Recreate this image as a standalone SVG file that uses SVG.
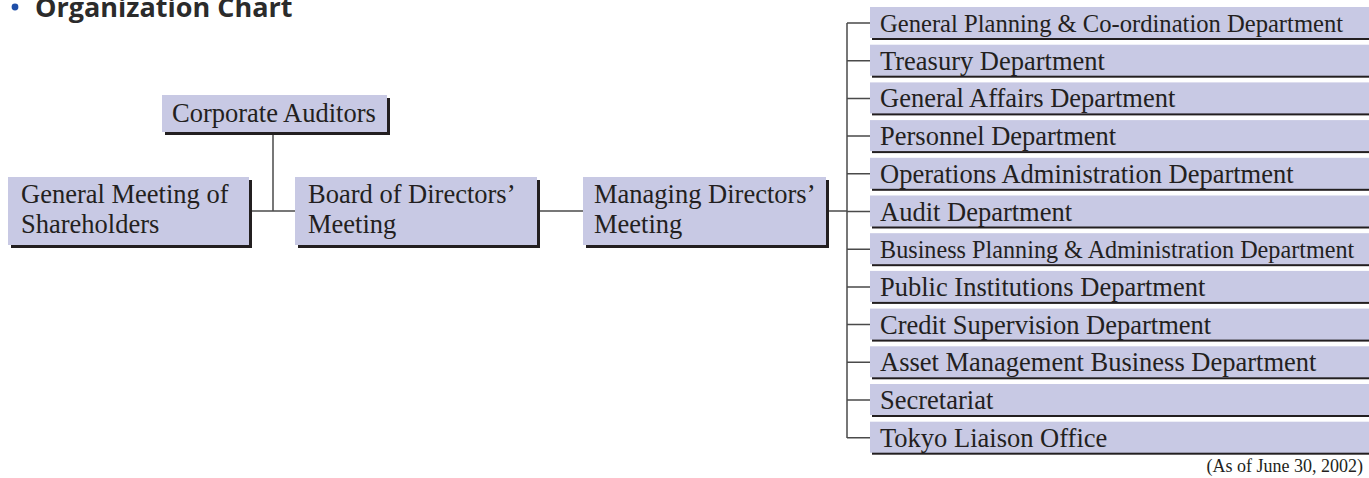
<svg xmlns="http://www.w3.org/2000/svg" width="1369" height="478" viewBox="0 0 1369 478">
  <style>
    .box { fill: #c8c9e4; }
    .shadow { fill: #231f20; }
    .label { font-family: "Liberation Serif", "Times New Roman", serif; font-size: 26.5px; fill: #231f20; }
    .dept { font-family: "Liberation Serif", "Times New Roman", serif; font-size: 26.5px; fill: #231f20; }
    .dept.long { font-size: 24.6px; }
    .dept.longer { font-size: 24.2px; }
    .link { stroke: #4a4a4a; stroke-width: 1.5; fill: none; }
    .title { font-family: "Open Sans", "Liberation Sans", sans-serif; font-weight: 700; font-size: 27px; fill: #2b2b2b; }
    .note { font-family: "Liberation Serif", "Times New Roman", serif; font-size: 18px; fill: #231f20; }
  </style>

  <!-- heading -->
  <circle cx="15" cy="7" r="3.4" fill="#1f4fa8"/>
  <text class="title" x="35" y="17">Organization Chart</text>

  <!-- connectors -->
  <g id="connectors">
    <path class="link" d="M249 211 H295"/>
    <path class="link" d="M273 132 V211"/>
    <path class="link" d="M537 211 H583"/>
    <path class="link" d="M826 211 H847"/>
    <path class="link" d="M847 23 V438"/>
    <path class="link" d="M847 23 H870 M847 60.7 H870 M847 98.4 H870 M847 136.1 H870 M847 173.8 H870 M847 211.5 H870 M847 249.2 H870 M847 286.9 H870 M847 324.6 H870 M847 362.3 H870 M847 400 H870 M847 437.7 H870"/>
  </g>

  <!-- governing bodies -->
  <g id="corporate-auditors">
    <rect class="shadow" x="165" y="98" width="225" height="37"/>
    <rect class="box" x="162" y="95" width="225" height="37"/>
    <text class="label" x="172" y="122">Corporate Auditors</text>
  </g>
  <g id="general-meeting">
    <rect class="shadow" x="11" y="180" width="241" height="68"/>
    <rect class="box" x="8" y="177" width="241" height="68"/>
    <text class="label" x="21" y="203">General Meeting of</text>
    <text class="label" x="21" y="233">Shareholders</text>
  </g>
  <g id="board">
    <rect class="shadow" x="298" y="180" width="242" height="68"/>
    <rect class="box" x="295" y="177" width="242" height="68"/>
    <text class="label" x="308" y="203">Board of Directors’</text>
    <text class="label" x="308" y="233">Meeting</text>
  </g>
  <g id="managing">
    <rect class="shadow" x="586" y="180" width="243" height="68"/>
    <rect class="box" x="583" y="177" width="243" height="68"/>
    <text class="label" x="594" y="203">Managing Directors’</text>
    <text class="label" x="594" y="233">Meeting</text>
  </g>

  <!-- departments -->
  <g id="dept-1"><rect class="shadow" x="872" y="9" width="497" height="31"/><rect class="box" x="870" y="7" width="499" height="31"/><text class="dept long" x="880" y="32">General Planning &amp; Co-ordination Department</text></g>
  <g id="dept-2"><rect class="shadow" x="872" y="46.7" width="497" height="31"/><rect class="box" x="870" y="44.7" width="499" height="31"/><text class="dept" x="880" y="69.7">Treasury Department</text></g>
  <g id="dept-3"><rect class="shadow" x="872" y="84.4" width="497" height="31"/><rect class="box" x="870" y="82.4" width="499" height="31"/><text class="dept" x="880" y="107.4">General Affairs Department</text></g>
  <g id="dept-4"><rect class="shadow" x="872" y="122.1" width="497" height="31"/><rect class="box" x="870" y="120.1" width="499" height="31"/><text class="dept" x="880" y="145.1">Personnel Department</text></g>
  <g id="dept-5"><rect class="shadow" x="872" y="159.8" width="497" height="31"/><rect class="box" x="870" y="157.8" width="499" height="31"/><text class="dept" x="880" y="182.8">Operations Administration Department</text></g>
  <g id="dept-6"><rect class="shadow" x="872" y="197.5" width="497" height="31"/><rect class="box" x="870" y="195.5" width="499" height="31"/><text class="dept" x="880" y="220.5">Audit Department</text></g>
  <g id="dept-7"><rect class="shadow" x="872" y="235.2" width="497" height="31"/><rect class="box" x="870" y="233.2" width="499" height="31"/><text class="dept longer" x="880" y="258.2">Business Planning &amp; Administration Department</text></g>
  <g id="dept-8"><rect class="shadow" x="872" y="272.9" width="497" height="31"/><rect class="box" x="870" y="270.9" width="499" height="31"/><text class="dept" x="880" y="295.9">Public Institutions Department</text></g>
  <g id="dept-9"><rect class="shadow" x="872" y="310.6" width="497" height="31"/><rect class="box" x="870" y="308.6" width="499" height="31"/><text class="dept" x="880" y="333.6">Credit Supervision Department</text></g>
  <g id="dept-10"><rect class="shadow" x="872" y="348.3" width="497" height="31"/><rect class="box" x="870" y="346.3" width="499" height="31"/><text class="dept" x="880" y="371.3">Asset Management Business Department</text></g>
  <g id="dept-11"><rect class="shadow" x="872" y="386" width="497" height="31"/><rect class="box" x="870" y="384" width="499" height="31"/><text class="dept" x="880" y="409">Secretariat</text></g>
  <g id="dept-12"><rect class="shadow" x="872" y="423.7" width="497" height="31"/><rect class="box" x="870" y="421.7" width="499" height="31"/><text class="dept" x="880" y="446.7">Tokyo Liaison Office</text></g>

  <text class="note" x="1363" y="472" text-anchor="end">(As of June 30, 2002)</text>
</svg>
